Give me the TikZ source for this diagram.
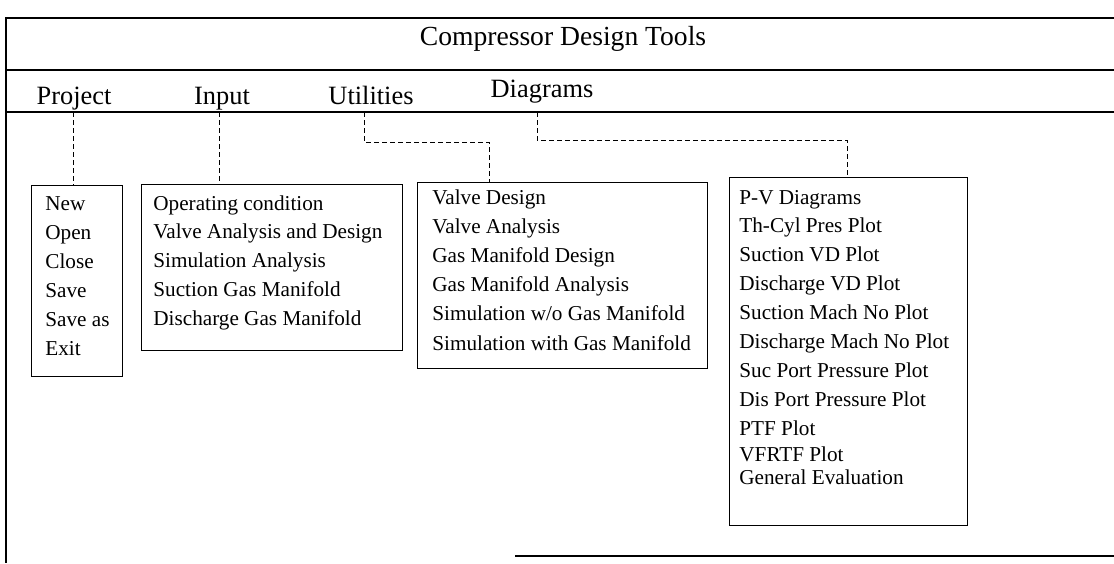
\documentclass[tikz,border=0pt]{standalone}
\usepackage{fontspec}
\setmainfont{Liberation Serif}
\tikzset{menubox/.style={draw, line width=0.6pt, anchor=north west, inner sep=0pt},
 item/.style={anchor=base west, inner sep=0pt, font=\fontsize{10.6}{12}\selectfont},
 heading/.style={anchor=base, inner sep=0pt, font=\fontsize{13.2}{15}\selectfont},
 link/.style={draw, line width=0.5pt, dash pattern=on 2.5pt off 1.5pt},
 frameline/.style={draw, line width=0.8pt},
 }

\begin{document}
\begin{tikzpicture}[x=0.5pt, y=-0.5pt]
        \useasboundingbox (0,0) rectangle (1114,563);
        % window frame
        \draw[frameline] (1114,18) -- (6,18) -- (6,563);
        \draw[frameline] (6,70) -- (1114,70);
        \draw[frameline] (6,112) -- (1114,112);
        \draw[frameline] (515,556) -- (1114,556);

        \node[heading, font=\fontsize{13.8}{16}\selectfont] (title) at (563,45) {Compressor Design Tools};

        % menu bar
        \node[heading] (project) at (74,104) {Project};
        \node[heading] (input) at (222,104) {Input};
        \node[heading] (utilities) at (371,104) {Utilities};
        \node[heading] (diagrams) at (542,97) {Diagrams};

        % drop down boxes
        \node[menubox, minimum width=45.5pt, minimum height=95.5pt] (projectbox) at (31,185) {};
        \node[menubox, minimum width=130.5pt, minimum height=83pt] (inputbox) at (141,184) {};
        \node[menubox, minimum width=145pt, minimum height=93pt] (utilitiesbox) at (417,182) {};
        \node[menubox, minimum width=119pt, minimum height=174pt] (diagramsbox) at (729,177) {};

        \foreach \t [count=\i from 0] in {New, Open, Close, Save, Save as, Exit}
            \node[item] (pj\i) at (45, 210+29*\i) {\t};
        \foreach \t [count=\i from 0] in {Operating condition, Valve Analysis and Design,
                Simulation Analysis, Suction Gas Manifold, Discharge Gas Manifold}
            \node[item] (in\i) at (153, 210+28.8*\i) {\t};
        \foreach \t [count=\i from 0] in {Valve Design, Valve Analysis, Gas Manifold Design,
                Gas Manifold Analysis, Simulation w/o Gas Manifold, Simulation with Gas Manifold}
            \node[item] (ut\i) at (432, 204+29.2*\i) {\t};
        \foreach \t [count=\i from 0] in {P-V Diagrams, Th-Cyl Pres Plot, Suction VD Plot,
                Discharge VD Plot, Suction Mach No Plot, Discharge Mach No Plot,
                Suc Port Pressure Plot, Dis Port Pressure Plot, PTF Plot}
            \node[item] (dg\i) at (739, 204+28.9*\i) {\t};
        \node[item] (dg9) at (739,461) {VFRTF Plot};
        \node[item] (dg10) at (739,484) {General Evaluation};

        % dashed links
        \coordinate (pjtap) at (73,112);
        \coordinate (intap) at (219,112);
        \coordinate (uttap) at (364,112);
        \coordinate (dgtap) at (537,112);
        \coordinate (utbend) at (489,142);
        \coordinate (dgbend) at (847,140);
        \draw[link] (pjtap) -- (pjtap |- projectbox.north);
        \draw[link] (intap) -- (intap |- inputbox.north);
        \draw[link] (uttap) |- (utbend) -- (utbend |- utilitiesbox.north);
        \draw[link] (dgtap) |- (dgbend) -- (dgbend |- diagramsbox.north);
    \end{tikzpicture}
\end{document}
